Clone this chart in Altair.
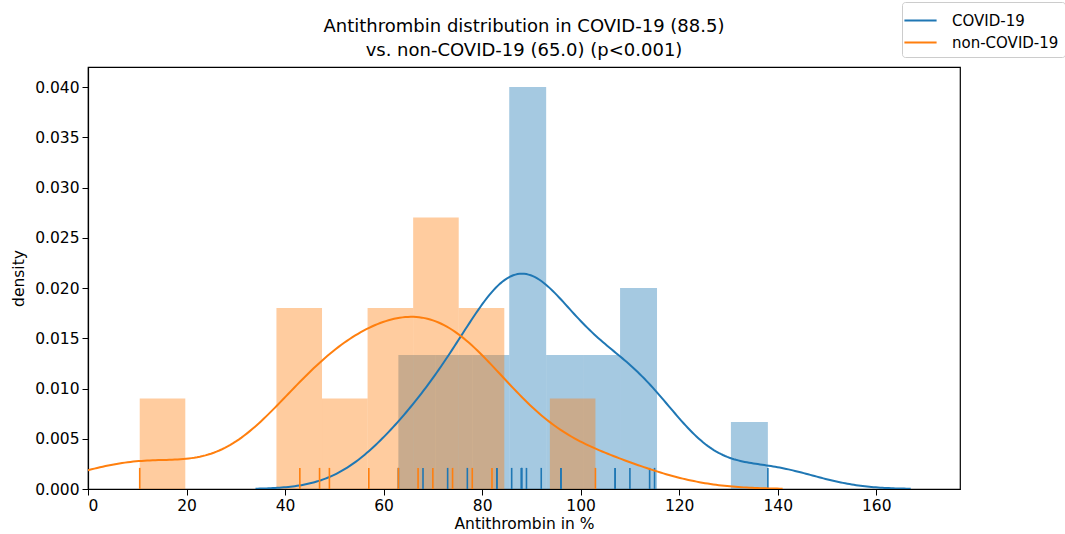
import altair as alt
import pandas as pd

# --- data ---
groups = ["COVID-19", "non-COVID-19"]
colors = ["#1f77b4", "#ff7f0e"]

covid_values = [63, 68, 73, 77, 83, 83, 86, 88, 88, 88,
                89, 92, 96, 96, 107, 107, 110, 114, 115, 138]
noncovid_values = [10.5, 43, 47, 49, 57, 63, 67, 70, 74, 78, 82, 103]

covid_bin_extent = [63, 138]
covid_bin_step = 7.5
noncovid_bin_extent = [10.5, 103]
noncovid_bin_step = 9.25

covid_kde_extent = [34, 167]
covid_kde_bw = 9.8
noncovid_kde_extent = [-28, 141]

x_ticks = [0, 20, 40, 60, 80, 100, 120, 140, 160]
y_ticks = [0.0, 0.005, 0.010, 0.015, 0.020, 0.025, 0.030, 0.035, 0.040]

title_lines = ["Antithrombin distribution in COVID-19 (88.5)",
               "vs. non-COVID-19 (65.0) (p<0.001)"]

FONT = "DejaVu Sans"

df_c = pd.DataFrame({"value": covid_values, "group": groups[0]})
df_n = pd.DataFrame({"value": noncovid_values, "group": groups[1]})

xscale = alt.Scale(domain=[0, 177], nice=False, zero=False)
yscale = alt.Scale(domain=[0, 0.042], nice=False)
cscale = alt.Scale(domain=groups, range=colors)

xaxis = alt.Axis(values=x_ticks, title="Antithrombin in %", format="d")
yaxis = alt.Axis(values=y_ticks, title="density", format=".3f")


def hist(df, extent, step, color):
    n = len(df)
    return (
        alt.Chart(df)
        .transform_bin(["bin_start", "bin_end"], "value",
                       bin=alt.Bin(extent=extent, step=step, nice=False))
        .transform_aggregate(cnt="count()", groupby=["bin_start", "bin_end"])
        .transform_calculate(dens=f"datum.cnt / ({n} * {step})")
        .mark_rect(color=color, opacity=0.4)
        .encode(
            x=alt.X("bin_start:Q", scale=xscale, axis=xaxis),
            x2="bin_end:Q",
            y=alt.Y("dens:Q", scale=yscale, axis=yaxis),
            y2=alt.datum(0),
        )
    )


def kde(df, extent, bw=None):
    kw = {"bandwidth": bw} if bw else {}
    return (
        alt.Chart(df)
        .transform_density("value", as_=["value", "density"], extent=extent,
                           steps=300, groupby=["group"], **kw)
        .mark_line(strokeWidth=2, clip=True)
        .encode(
            x=alt.X("value:Q", scale=xscale, axis=xaxis),
            y=alt.Y("density:Q", scale=yscale, axis=yaxis),
            color=alt.Color("group:N", scale=cscale,
                            legend=alt.Legend(title=None)),
        )
    )


def rug(df, color):
    return (
        alt.Chart(df)
        .mark_rule(color=color, strokeWidth=1.6)
        .encode(
            x=alt.X("value:Q", scale=xscale, axis=xaxis),
            y=alt.datum(0, scale=yscale),
            y2=alt.datum(0.0021),
        )
    )


chart = alt.layer(
    hist(df_c, covid_bin_extent, covid_bin_step, colors[0]),
    hist(df_n, noncovid_bin_extent, noncovid_bin_step, colors[1]),
    kde(df_c, covid_kde_extent, covid_kde_bw),
    rug(df_c, colors[0]),
    kde(df_n, noncovid_kde_extent),
    rug(df_n, colors[1]),
).properties(
    width=872,
    height=422,
    title=alt.Title(title_lines, font=FONT, fontSize=18, fontWeight="normal",
                    anchor="middle", offset=6, dy=64, lineHeight=24,
                    color="black"),
    autosize=alt.AutoSizeParams(type="none"),
    padding={"left": 88, "top": 67, "right": 105, "bottom": 45},
).configure_view(
    stroke="black", strokeWidth=1.2
).configure_axis(
    labelFont=FONT, titleFont=FONT, labelFontSize=15.5, titleFontSize=15.5,
    titleFontWeight="normal", labelColor="black", titleColor="black",
    domainColor="black", tickColor="black", tickSize=6, labelPadding=3,
    grid=False, domainWidth=1.2,
).configure_axisY(
    titlePadding=8
).configure_axisX(
    titlePadding=3
).configure_legend(
    orient="none", legendX=814, legendY=-65,
    strokeColor="#cccccc", cornerRadius=3, padding=6, fillColor="white",
    symbolType="M-1.4,0H1.4", symbolSize=529, symbolStrokeWidth=2,
    labelFont=FONT, labelFontSize=15, labelColor="black", labelOffset=19,
    rowPadding=1,
)

chart.save("out.html", embed_options={"renderer": "svg", "actions": False})
